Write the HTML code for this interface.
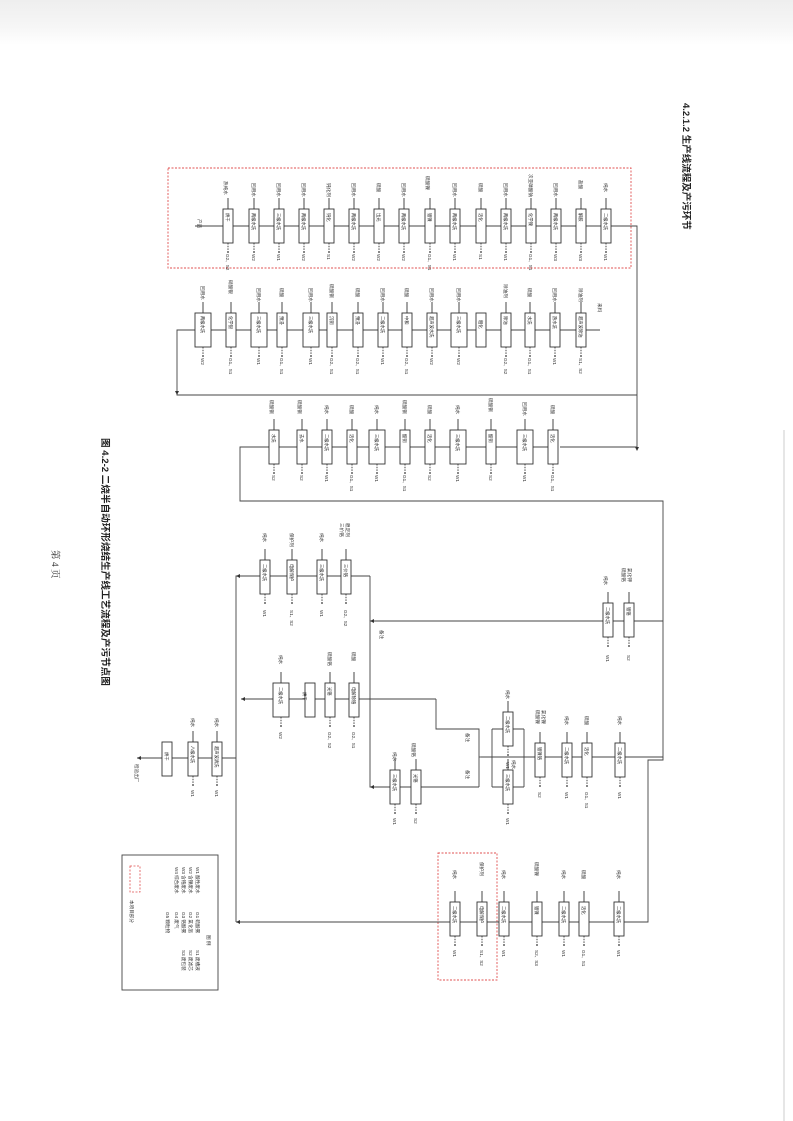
<!DOCTYPE html>
<html><head><meta charset="utf-8">
<style>
html,body{margin:0;padding:0;background:#fff;}
svg{display:block;}
.t{font-family:"Liberation Sans","Noto Sans CJK SC",sans-serif;font-size:4.6px;fill:#333;}
.b{font-family:"Liberation Sans","Noto Sans CJK SC",sans-serif;font-size:4.3px;fill:#222;}
</style></head><body>
<svg width="793" height="1121" viewBox="0 0 793 1121" xmlns="http://www.w3.org/2000/svg">
<defs>
<linearGradient id="bg" x1="0" y1="0" x2="0" y2="1"><stop offset="0" stop-color="#eeeeee"/><stop offset="0.6" stop-color="#f6f6f6"/><stop offset="1" stop-color="#fff"/></linearGradient>
<g id="u"><line x1="0" y1="-11" x2="0" y2="0" stroke="#333" stroke-width="0.9"/><rect x="-5" y="0" width="10" height="34" fill="#fff" stroke="#333" stroke-width="0.9"/><line x1="0" y1="34" x2="0" y2="42" stroke="#333" stroke-width="0.9" stroke-dasharray="1.5,1.2"/><circle cx="0" cy="43" r="0.9" fill="#333"/></g>
<g id="w"><line x1="0" y1="-11" x2="0" y2="0" stroke="#333" stroke-width="0.9"/><rect x="-8" y="0" width="16" height="34" fill="#fff" stroke="#333" stroke-width="0.9"/><line x1="0" y1="34" x2="0" y2="42" stroke="#333" stroke-width="0.9" stroke-dasharray="1.5,1.2"/><circle cx="0" cy="43" r="0.9" fill="#333"/></g>
</defs>
<rect x="0" y="0" width="793" height="45" fill="url(#bg)"/>
<line x1="784" y1="430" x2="784" y2="1121" stroke="#ccc" stroke-width="1"/>

<text transform="translate(683,103) rotate(90)" style="font-family:'Liberation Sans','Noto Sans CJK SC',sans-serif;font-size:9.5px;font-weight:bold;fill:#222">4.2.1.2  生产线流程及产污环节</text>
<text transform="translate(102,438) rotate(90)" style="font-family:'Liberation Sans','Noto Sans CJK SC',sans-serif;font-size:9.6px;font-weight:bold;fill:#222">图 4.2-2 二烧半自动环形烧结生产线工艺流程及产污节点图</text>
<text transform="translate(52,550) rotate(90)" style="font-family:'Liberation Serif','Noto Serif CJK SC',serif;font-size:9.5px;fill:#333">第 4 页</text>

<g stroke="#444" stroke-width="0.9" fill="none">
<rect x="168" y="168" width="463" height="100" stroke="#e05050" stroke-dasharray="2,1.5"/>
<rect x="438" y="853" width="59" height="127" stroke="#e05050" stroke-dasharray="2,1.5"/>
<polyline points="195,226 630,226 637,226 637,447 560,447"/>
<polyline points="600,330 177,330 177,395 637,395"/>
<polyline points="553,447 240,447 240,501 663,501 663,757 481,757"/>
<polyline points="370,576 236,576 236,922"/>
<polyline points="663,621 370,621 370,787 479,787"/>
<line x1="370" y1="576" x2="370" y2="621"/>
<polyline points="436,699 241,699"/>
<polyline points="436,699 436,729 479,729 479,787"/>
<line x1="492" y1="729" x2="492" y2="787"/><line x1="524" y1="729" x2="524" y2="787"/>
<line x1="479" y1="757" x2="492" y2="757"/><line x1="492" y1="729" x2="524" y2="729"/><line x1="492" y1="787" x2="524" y2="787"/>
<line x1="236" y1="758" x2="137" y2="758"/>
<polyline points="663,757 663,760 648,760 648,922 236,922"/>
</g>
<g fill="#333">
<polygon points="635,447 639,447 637,451"/><polygon points="177,395 175,391 179,391"/>
<polygon points="236,922 240,920 240,924"/><polygon points="137,758 141,756 141,760"/>
<polygon points="236,576 240,574 240,578"/><polygon points="241,699 245,697 245,701"/>
<polygon points="370,621 374,619 374,623"/><polygon points="370,787 374,785 374,789"/>
</g>

<g>
<use href="#u" x="228" y="209"/><use href="#u" x="254" y="209"/><use href="#u" x="279" y="209"/><use href="#u" x="304" y="209"/><use href="#u" x="329" y="209"/><use href="#u" x="354" y="209"/><use href="#u" x="379" y="209"/><use href="#u" x="404" y="209"/><use href="#u" x="430" y="209"/><use href="#u" x="455" y="209"/><use href="#u" x="481" y="209"/><use href="#u" x="506" y="209"/><use href="#u" x="531" y="209"/><use href="#u" x="556" y="209"/><use href="#u" x="581" y="209"/><use href="#u" x="606" y="209"/>
</g>
<g class="b">
<text transform="translate(226,213) rotate(90)">烘干</text><text transform="translate(252,213) rotate(90)">两级水洗</text><text transform="translate(277,213) rotate(90)">三级水洗</text><text transform="translate(302,213) rotate(90)">两级水洗</text><text transform="translate(327,213) rotate(90)">钝化</text><text transform="translate(352,213) rotate(90)">两级水洗</text><text transform="translate(377,213) rotate(90)">出光</text><text transform="translate(402,213) rotate(90)">两级水洗</text><text transform="translate(428,213) rotate(90)">镀镍</text><text transform="translate(453,213) rotate(90)">两级水洗</text><text transform="translate(479,213) rotate(90)">活化</text><text transform="translate(504,213) rotate(90)">两级水洗</text><text transform="translate(529,213) rotate(90)">化学镍</text><text transform="translate(554,213) rotate(90)">两级水洗</text><text transform="translate(579,213) rotate(90)">解胶</text><text transform="translate(604,213) rotate(90)">二级水洗</text>
</g>
<g class="t">
<text transform="translate(224,181) rotate(90)">热纯水</text><text transform="translate(252,183) rotate(90)">回用水</text><text transform="translate(277,183) rotate(90)">回用水</text><text transform="translate(302,183) rotate(90)">回用水</text><text transform="translate(327,183) rotate(90)">钝化剂</text><text transform="translate(352,183) rotate(90)">回用水</text><text transform="translate(377,183) rotate(90)">硫酸</text><text transform="translate(402,183) rotate(90)">回用水</text><text transform="translate(426,176) rotate(90)">硫酸镍</text><text transform="translate(453,183) rotate(90)">回用水</text><text transform="translate(479,183) rotate(90)">硫酸</text><text transform="translate(504,183) rotate(90)">回用水</text><text transform="translate(529,174) rotate(90)">次亚磷酸钠</text><text transform="translate(554,183) rotate(90)">回用水</text><text transform="translate(579,180) rotate(90)">盐酸</text><text transform="translate(604,183) rotate(90)">纯水</text>
<text transform="translate(198,219) rotate(90)">产品</text>
<text transform="translate(226,254) rotate(90)">G2、S2</text><text transform="translate(252,254) rotate(90)">W2</text><text transform="translate(277,254) rotate(90)">W1</text><text transform="translate(302,254) rotate(90)">W2</text><text transform="translate(327,254) rotate(90)">S1</text><text transform="translate(352,254) rotate(90)">W2</text><text transform="translate(377,254) rotate(90)">W2</text><text transform="translate(402,254) rotate(90)">W2</text><text transform="translate(428,254) rotate(90)">G1、S1</text><text transform="translate(453,254) rotate(90)">W1</text><text transform="translate(479,254) rotate(90)">S1</text><text transform="translate(504,254) rotate(90)">W1</text><text transform="translate(529,254) rotate(90)">G1、S1</text><text transform="translate(554,254) rotate(90)">W3</text><text transform="translate(579,254) rotate(90)">W3</text><text transform="translate(604,254) rotate(90)">W1</text>
</g>

<g>
<use href="#w" x="203" y="313"/><use href="#u" x="231" y="313"/><use href="#w" x="259" y="313"/><use href="#u" x="282" y="313"/><use href="#w" x="311" y="313"/><use href="#u" x="332" y="313"/><use href="#u" x="358" y="313"/><use href="#u" x="383" y="313"/><use href="#u" x="407" y="313"/><use href="#u" x="432" y="313"/><use href="#w" x="459" y="313"/><use href="#u" x="506" y="313"/><use href="#u" x="530" y="313"/><use href="#u" x="555" y="313"/><use href="#u" x="581" y="313"/>
<rect x="476" y="313" width="10" height="34" fill="#fff" stroke="#333" stroke-width="0.9"/>
</g>
<g class="b">
<text transform="translate(201,316) rotate(90)">两级水洗</text><text transform="translate(229,316) rotate(90)">化学银</text><text transform="translate(257,316) rotate(90)">三级水洗</text><text transform="translate(280,316) rotate(90)">预浸</text><text transform="translate(309,316) rotate(90)">三级水洗</text><text transform="translate(330,316) rotate(90)">沉铜</text><text transform="translate(356,316) rotate(90)">预浸</text><text transform="translate(381,316) rotate(90)">二级水洗</text><text transform="translate(405,316) rotate(90)">中和</text><text transform="translate(430,316) rotate(90)">超声波水洗</text><text transform="translate(457,316) rotate(90)">三级水洗</text><text transform="translate(479,320) rotate(90)">粗化</text><text transform="translate(504,316) rotate(90)">除油</text><text transform="translate(528,316) rotate(90)">水洗</text><text transform="translate(553,316) rotate(90)">热水洗</text><text transform="translate(579,316) rotate(90)">超声波除油</text>
</g>
<g class="t">
<text transform="translate(201,286) rotate(90)">回用水</text><text transform="translate(229,280) rotate(90)">硝酸银</text><text transform="translate(257,288) rotate(90)">回用水</text><text transform="translate(280,288) rotate(90)">硫酸</text><text transform="translate(309,288) rotate(90)">回用水</text><text transform="translate(330,284) rotate(90)">硫酸铜</text><text transform="translate(356,288) rotate(90)">硫酸</text><text transform="translate(381,288) rotate(90)">回用水</text><text transform="translate(405,288) rotate(90)">硫酸</text><text transform="translate(430,288) rotate(90)">回用水</text><text transform="translate(457,288) rotate(90)">回用水</text><text transform="translate(504,284) rotate(90)">除油剂</text><text transform="translate(528,288) rotate(90)">硫酸</text><text transform="translate(553,288) rotate(90)">回用水</text><text transform="translate(579,288) rotate(90)">除油剂</text>
<text transform="translate(598,303) rotate(90)">来料</text>
<text transform="translate(201,358) rotate(90)">W2</text><text transform="translate(229,358) rotate(90)">G1、S1</text><text transform="translate(257,358) rotate(90)">W1</text><text transform="translate(280,358) rotate(90)">G1、S1</text><text transform="translate(309,358) rotate(90)">W1</text><text transform="translate(330,358) rotate(90)">G2、S1</text><text transform="translate(356,358) rotate(90)">G2、S1</text><text transform="translate(381,358) rotate(90)">W1</text><text transform="translate(405,358) rotate(90)">G2、S1</text><text transform="translate(430,358) rotate(90)">W2</text><text transform="translate(457,358) rotate(90)">W2</text><text transform="translate(504,358) rotate(90)">G2、S2</text><text transform="translate(528,358) rotate(90)">G1、S1</text><text transform="translate(553,358) rotate(90)">W1</text><text transform="translate(579,358) rotate(90)">S1、S2</text>
</g>

<g>
<use href="#u" x="274" y="430"/><use href="#u" x="302" y="430"/><use href="#u" x="327" y="430"/><use href="#u" x="352" y="430"/><use href="#w" x="377" y="430"/><use href="#u" x="405" y="430"/><use href="#u" x="430" y="430"/><use href="#w" x="458" y="430"/><use href="#u" x="491" y="430"/><use href="#w" x="525" y="430"/><use href="#u" x="553" y="430"/>
</g>
<g class="b">
<text transform="translate(272,434) rotate(90)">水洗</text><text transform="translate(300,434) rotate(90)">去水</text><text transform="translate(325,434) rotate(90)">二级水洗</text><text transform="translate(350,434) rotate(90)">活化</text><text transform="translate(375,434) rotate(90)">三级水洗</text><text transform="translate(403,434) rotate(90)">酸铜</text><text transform="translate(428,434) rotate(90)">活化</text><text transform="translate(456,434) rotate(90)">三级水洗</text><text transform="translate(489,434) rotate(90)">酸铜</text><text transform="translate(523,434) rotate(90)">三级水洗</text><text transform="translate(551,434) rotate(90)">活化</text>
</g>
<g class="t">
<text transform="translate(270,400) rotate(90)">硫酸铜</text><text transform="translate(298,400) rotate(90)">硫酸铜</text><text transform="translate(325,405) rotate(90)">纯水</text><text transform="translate(350,405) rotate(90)">硫酸</text><text transform="translate(375,405) rotate(90)">纯水</text><text transform="translate(403,400) rotate(90)">硫酸铜</text><text transform="translate(428,405) rotate(90)">硫酸</text><text transform="translate(456,405) rotate(90)">纯水</text><text transform="translate(489,398) rotate(90)">硫酸铜</text><text transform="translate(523,402) rotate(90)">回用水</text><text transform="translate(551,405) rotate(90)">硫酸</text>
<text transform="translate(272,475) rotate(90)">S2</text><text transform="translate(300,475) rotate(90)">S2</text><text transform="translate(325,475) rotate(90)">W1</text><text transform="translate(350,475) rotate(90)">G1、S1</text><text transform="translate(375,475) rotate(90)">W1</text><text transform="translate(403,475) rotate(90)">G1、S1</text><text transform="translate(428,475) rotate(90)">S2</text><text transform="translate(456,475) rotate(90)">W1</text><text transform="translate(489,475) rotate(90)">S2</text><text transform="translate(523,475) rotate(90)">W1</text><text transform="translate(551,475) rotate(90)">G1、S1</text>
</g>

<g>
<use href="#u" x="265" y="560"/><use href="#u" x="292" y="560"/><use href="#u" x="322" y="560"/><use href="#u" x="346" y="560"/>
<use href="#u" x="608" y="603"/><use href="#u" x="629" y="603"/>
<use href="#w" x="281" y="683"/><rect x="305" y="683" width="10" height="34" fill="#fff" stroke="#333" stroke-width="0.9"/><use href="#u" x="330" y="683"/><use href="#u" x="354" y="683"/>
<use href="#u" x="620" y="743"/><use href="#u" x="587" y="743"/><use href="#u" x="567" y="743"/><use href="#u" x="540" y="743"/>
<use href="#u" x="508" y="712"/><use href="#u" x="508" y="770"/>
<use href="#u" x="416" y="770"/><use href="#u" x="395" y="770"/>
<use href="#u" x="217" y="742"/><use href="#u" x="193" y="742"/><rect x="162" y="742" width="10" height="34" fill="#fff" stroke="#333" stroke-width="0.9"/>
<use href="#u" x="619" y="902"/><use href="#u" x="584" y="902"/><use href="#u" x="564" y="902"/><use href="#u" x="537" y="902"/><use href="#u" x="504" y="902"/><use href="#u" x="482" y="902"/><use href="#u" x="455" y="902"/>
</g>
<g class="b">
<text transform="translate(263,564) rotate(90)">二级水洗</text><text transform="translate(290,564) rotate(90)">电解保护</text><text transform="translate(320,564) rotate(90)">三级水洗</text><text transform="translate(344,564) rotate(90)">三价铬</text>
<text transform="translate(606,607) rotate(90)">二级水洗</text><text transform="translate(627,607) rotate(90)">镀铬</text>
<text transform="translate(279,687) rotate(90)">二级水洗</text><text transform="translate(303,692) rotate(90)">烘干</text><text transform="translate(328,687) rotate(90)">光铬</text><text transform="translate(352,687) rotate(90)">电解除铬</text>
<text transform="translate(618,747) rotate(90)">二级水洗</text><text transform="translate(585,747) rotate(90)">活化</text><text transform="translate(565,747) rotate(90)">二级水洗</text><text transform="translate(538,747) rotate(90)">镀镍铬</text>
<text transform="translate(506,716) rotate(90)">二级水洗</text><text transform="translate(506,774) rotate(90)">三级水洗</text>
<text transform="translate(414,774) rotate(90)">光铬</text><text transform="translate(393,774) rotate(90)">三级水洗</text>
<text transform="translate(215,746) rotate(90)">超声波清洗</text><text transform="translate(191,746) rotate(90)">八级水洗</text><text transform="translate(165,752) rotate(90)">烘干</text>
<text transform="translate(617,906) rotate(90)">二级水洗</text><text transform="translate(582,906) rotate(90)">活化</text><text transform="translate(562,906) rotate(90)">二级水洗</text><text transform="translate(535,906) rotate(90)">镀镍</text><text transform="translate(502,906) rotate(90)">二级水洗</text><text transform="translate(480,906) rotate(90)">电解保护</text><text transform="translate(453,906) rotate(90)">二级水洗</text>
</g>
<g class="t">
<text transform="translate(263,533) rotate(90)">纯水</text><text transform="translate(290,533) rotate(90)">保护剂</text><text transform="translate(320,533) rotate(90)">纯水</text><text transform="translate(340,523) rotate(90)">三价铬</text><text transform="translate(346,523) rotate(90)">稳定剂</text>
<text transform="translate(263,610) rotate(90)">W1</text><text transform="translate(290,610) rotate(90)">S1、S2</text><text transform="translate(320,610) rotate(90)">W1</text><text transform="translate(344,610) rotate(90)">G2、S2</text>
<text transform="translate(604,576) rotate(90)">纯水</text><text transform="translate(622,568) rotate(90)">硫酸铬</text><text transform="translate(628,568) rotate(90)">氯化钾</text>
<text transform="translate(606,655) rotate(90)">W1</text><text transform="translate(627,655) rotate(90)">S2</text>
<text transform="translate(380,630) rotate(90)">备注</text>
<text transform="translate(279,655) rotate(90)">纯水</text><text transform="translate(328,652) rotate(90)">硫酸铬</text><text transform="translate(352,652) rotate(90)">硫酸</text>
<text transform="translate(279,732) rotate(90)">W2</text><text transform="translate(328,732) rotate(90)">G2、S2</text><text transform="translate(352,732) rotate(90)">G2、S1</text>
<text transform="translate(618,716) rotate(90)">纯水</text><text transform="translate(585,716) rotate(90)">硫酸</text><text transform="translate(565,716) rotate(90)">纯水</text><text transform="translate(536,710) rotate(90)">硫酸镍</text><text transform="translate(542,710) rotate(90)">氯化镍</text>
<text transform="translate(618,792) rotate(90)">W1</text><text transform="translate(585,792) rotate(90)">G1、S1</text><text transform="translate(565,792) rotate(90)">W1</text><text transform="translate(538,792) rotate(90)">S2</text>
<text transform="translate(506,690) rotate(90)">纯水</text><text transform="translate(512,760) rotate(90)">纯水</text><text transform="translate(506,762) rotate(90)">W1</text><text transform="translate(506,818) rotate(90)">W1</text>
<text transform="translate(466,733) rotate(90)">备注</text><text transform="translate(466,770) rotate(90)">备注</text>
<text transform="translate(412,743) rotate(90)">硫酸铬</text><text transform="translate(393,752) rotate(90)">纯水</text>
<text transform="translate(414,818) rotate(90)">S2</text><text transform="translate(393,818) rotate(90)">W1</text>
<text transform="translate(215,718) rotate(90)">纯水</text><text transform="translate(191,718) rotate(90)">纯水</text>
<text transform="translate(215,790) rotate(90)">W1</text><text transform="translate(191,790) rotate(90)">W1</text>
<text transform="translate(135,764) rotate(90)">检验出厂</text>
<text transform="translate(617,870) rotate(90)">纯水</text><text transform="translate(582,870) rotate(90)">硫酸</text><text transform="translate(562,870) rotate(90)">纯水</text><text transform="translate(535,862) rotate(90)">硫酸镍</text><text transform="translate(502,870) rotate(90)">纯水</text><text transform="translate(480,862) rotate(90)">保护剂</text><text transform="translate(453,870) rotate(90)">纯水</text>
<text transform="translate(617,950) rotate(90)">W1</text><text transform="translate(582,950) rotate(90)">G1、S1</text><text transform="translate(562,950) rotate(90)">W1</text><text transform="translate(535,950) rotate(90)">S2、S3</text><text transform="translate(502,950) rotate(90)">W1</text><text transform="translate(480,950) rotate(90)">S1、S2</text><text transform="translate(453,950) rotate(90)">W1</text>
</g>

<rect x="122" y="855" width="96" height="135" fill="none" stroke="#444" stroke-width="0.9"/>
<rect x="130" y="866" width="10" height="26" fill="none" stroke="#e05050" stroke-width="0.8" stroke-dasharray="2,1.5"/>
<g class="t">
<text transform="translate(207,935) rotate(90)">图 例</text>
<text transform="translate(196,867) rotate(90)">W1 酸性废水</text><text transform="translate(189,867) rotate(90)">W2 含镍废水</text><text transform="translate(182,867) rotate(90)">W3 含铬废水</text><text transform="translate(175,867) rotate(90)">W4 综合废水</text>
<text transform="translate(196,912) rotate(90)">G1 硫酸雾</text><text transform="translate(189,912) rotate(90)">G2 氯化氢</text><text transform="translate(182,912) rotate(90)">G3 铬酸雾</text><text transform="translate(175,912) rotate(90)">G4 废气</text><text transform="translate(166,912) rotate(90)">G5 颗粒物</text>
<text transform="translate(196,950) rotate(90)">S1 废槽液</text><text transform="translate(189,950) rotate(90)">S2 废滤芯</text><text transform="translate(182,950) rotate(90)">S3 废包装</text>
<text transform="translate(130,900) rotate(90)">本项目部分</text>
</g>
</svg>
</body></html>
